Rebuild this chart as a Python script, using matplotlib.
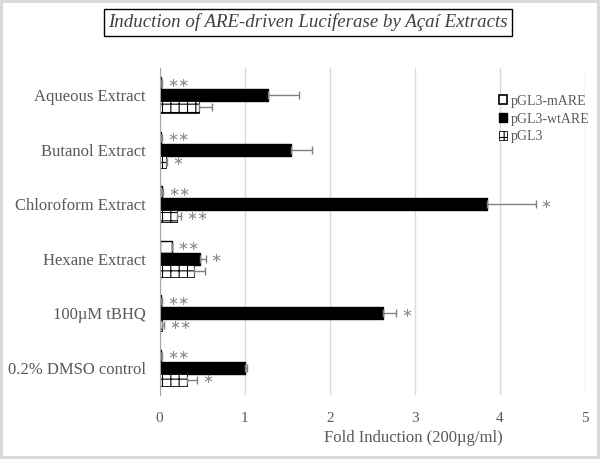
import matplotlib.pyplot as plt
from matplotlib.patches import Patch
import numpy

plt.rcParams['font.family'] = ['Liberation Serif', 'DejaVu Serif']
plt.rcParams['hatch.linewidth'] = 0.8

# top to bottom on the chart
categories = ['Aqueous Extract', 'Butanol Extract', 'Chloroform Extract',
              'Hexane Extract', '100\u00b5M tBHQ', '0.2% DMSO control']

# pGL3-mARE, pGL3-wtARE, pGL3 (fold induction) and their +errors
mare = [0.02, 0.02, 0.03, 0.15, 0.02, 0.02]
mare_err = [0.01, 0.01, 0.01, 0.0, 0.01, 0.01]
wtare = [1.27, 1.55, 3.85, 0.48, 2.63, 1.00]
wtare_err = [0.37, 0.24, 0.57, 0.06, 0.15, 0.03]
pgl3 = [0.46, 0.07, 0.20, 0.41, 0.03, 0.32]
pgl3_err = [0.16, 0.02, 0.05, 0.12, 0.02, 0.12]

mare_stars = ['**', '**', '**', '**', '**', '**']
wtare_stars = ['', '', '*', '*', '*', '']
pgl3_stars = ['', '*', '**', '', '**', '*']

grey = '#595959'
fig = plt.figure(figsize=(6, 4.59), dpi=100, edgecolor='#d9d9d9', linewidth=3)
ax = fig.add_axes([0.266, 0.139, 0.709, 0.713])

y = numpy.arange(len(categories))
h = 0.22
err_kw = dict(ecolor='#808080', capsize=3, elinewidth=1)

ax.barh(y - h, mare, height=h, color='white', edgecolor='black', linewidth=1,
        xerr=[numpy.zeros(len(mare)), mare_err], error_kw=err_kw)
ax.barh(y, wtare, height=h, color='black', edgecolor='black',
        xerr=[numpy.zeros(len(wtare)), wtare_err], error_kw=err_kw)
ax.barh(y + h, pgl3, height=h, color='white', edgecolor='black', linewidth=0.6,
        hatch='++', xerr=[numpy.zeros(len(pgl3)), pgl3_err], error_kw=err_kw)

for i in range(len(categories)):
    for off, vals, errs, stars in [(-h, mare, mare_err, mare_stars),
                                   (0, wtare, wtare_err, wtare_stars),
                                   (h, pgl3, pgl3_err, pgl3_stars)]:
        if stars[i]:
            ax.text(vals[i] + errs[i] + 0.06, y[i] + off, stars[i].replace('*', '\u2217'),
                    color='#8c8c8c', fontsize=9.5, va='center', ha='left',
                    family=['DejaVu Sans'])

ax.set_yticks(y)
ax.set_yticklabels(categories, fontsize=12, color=grey)
ax.set_ylim(5.5, -0.5)
ax.set_xlim(0, 5)
ax.set_xticks([0, 1, 2, 3, 4, 5])
ax.tick_params(axis='x', labelsize=11, labelcolor=grey, length=0, pad=12)
ax.tick_params(axis='y', length=0, pad=10)
ax.set_xlabel('Fold Induction (200\u00b5g/ml)', fontsize=12, color=grey, labelpad=5)
ax.xaxis.set_label_coords(0.596, -0.105)
ax.xaxis.grid(True, color='#d9d9d9', linewidth=1)
ax.set_axisbelow(True)
for s in ['top', 'right', 'bottom']:
    ax.spines[s].set_visible(False)
ax.spines['left'].set_color('#a6a6a6')

handles = [Patch(facecolor='white', edgecolor='black', linewidth=1.2),
           Patch(facecolor='black', edgecolor='black'),
           Patch(facecolor='white', edgecolor='black', hatch='++', linewidth=0.6)]
leg = ax.legend(handles, ['pGL3-mARE', 'pGL3-wtARE', 'pGL3'], loc='upper left',
                bbox_to_anchor=(0.785, 0.935), frameon=False, fontsize=10,
                handlelength=0.6, handleheight=0.6, handletextpad=0.25,
                labelspacing=0.35, borderaxespad=0)
for t in leg.get_texts():
    t.set_color(grey)

fig.text(0.513, 0.951, 'Induction of ARE-driven Luciferase by A\u00e7a\u00ed Extracts',
         fontsize=13.6, style='italic', color='#404040', ha='center', va='center',
         bbox=dict(boxstyle='square,pad=0.22', facecolor='white', edgecolor='black', linewidth=1))

plt.savefig('out.png', dpi=100, edgecolor=fig.get_edgecolor())
